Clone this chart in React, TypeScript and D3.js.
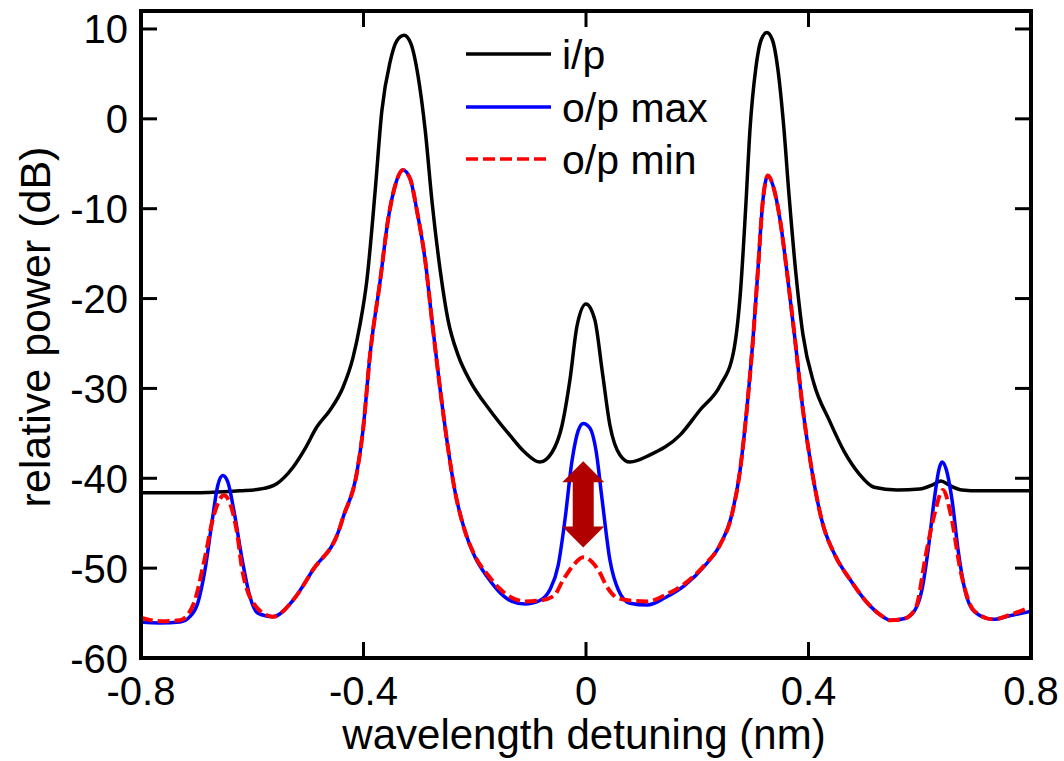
import React from "react";
import * as d3 from "d3";

// wavelength detuning (nm) and relative power (dB)
const inputX = [-0.8, -0.694, -0.622, -0.586, -0.556, -0.527, -0.505, -0.484, -0.46, -0.437, -0.419, -0.406, -0.394, -0.379, -0.367, -0.352, -0.34, -0.327, -0.315, -0.302, -0.289, -0.277, -0.262, -0.248, -0.23, -0.209, -0.173, -0.137, -0.11, -0.083, -0.061, -0.043, -0.029, -0.016, 0, 0.016, 0.029, 0.043, 0.061, 0.079, 0.115, 0.169, 0.205, 0.241, 0.265, 0.278, 0.287, 0.295, 0.305, 0.315, 0.325, 0.335, 0.345, 0.355, 0.365, 0.377, 0.39, 0.41, 0.437, 0.464, 0.491, 0.518, 0.559, 0.6, 0.624, 0.638, 0.654, 0.676, 0.708, 0.75, 0.8];
const inputY = [-41.6, -41.6, -41.4, -41.2, -40.6, -38.8, -36.7, -34.3, -32.4, -29.9, -26.6, -22.8, -18.0, -8.0, 0.9, 6.4, 8.7, 9.3, 8.4, 4.8, -1.3, -9.1, -16.9, -22.4, -26.3, -29.1, -32.4, -35.2, -37.1, -38.2, -37.1, -34.1, -29.1, -23.0, -20.6, -22.4, -28.0, -34.1, -37.4, -38.2, -37.4, -35.2, -32.4, -29.7, -26.0, -19.0, -10.0, -1.0, 5.5, 8.8, 9.6, 8.8, 5.5, -0.5, -8.5, -17.0, -24.0, -29.5, -33.5, -37.0, -39.5, -41.0, -41.3, -41.2, -40.7, -40.3, -40.8, -41.3, -41.4, -41.4, -41.4];

const maxX = [-0.8, -0.766, -0.73, -0.712, -0.698, -0.685, -0.672, -0.662, -0.653, -0.644, -0.633, -0.618, -0.604, -0.59, -0.563, -0.527, -0.491, -0.442, -0.437, -0.412, -0.401, -0.388, -0.37, -0.356, -0.343, -0.329, -0.316, -0.304, -0.289, -0.277, -0.262, -0.25, -0.236, -0.218, -0.2, -0.176, -0.155, -0.133, -0.11, -0.083, -0.065, -0.05, -0.038, -0.025, -0.014, -0.005, 0.007, 0.018, 0.029, 0.043, 0.058, 0.079, 0.11, 0.142, 0.178, 0.214, 0.241, 0.262, 0.277, 0.289, 0.3, 0.309, 0.318, 0.327, 0.336, 0.349, 0.361, 0.376, 0.39, 0.406, 0.424, 0.448, 0.475, 0.502, 0.529, 0.547, 0.573, 0.591, 0.604, 0.615, 0.626, 0.635, 0.64, 0.647, 0.658, 0.669, 0.681, 0.699, 0.732, 0.762, 0.8];
const maxY = [-56.0, -56.1, -56.0, -55.4, -53.9, -50.2, -44.7, -40.8, -39.7, -40.4, -43.6, -49.1, -53.2, -55.0, -55.4, -53.6, -50.2, -45.4, -44.4, -39.4, -34.7, -26.1, -18.0, -11.3, -7.4, -5.7, -6.7, -10.2, -15.8, -22.4, -30.2, -35.8, -41.3, -45.8, -48.7, -51.1, -52.7, -53.7, -54.0, -53.6, -52.4, -49.7, -44.7, -38.0, -34.7, -33.9, -34.4, -36.9, -42.4, -49.1, -52.4, -53.9, -54.1, -53.3, -51.9, -49.7, -47.4, -44.1, -39.1, -32.4, -24.7, -16.9, -9.1, -6.3, -7.4, -11.3, -16.9, -24.7, -32.4, -39.1, -44.7, -48.6, -51.3, -53.6, -55.2, -55.8, -55.6, -54.7, -52.4, -48.0, -42.4, -38.9, -38.2, -38.9, -42.4, -48.0, -52.4, -54.9, -55.7, -55.3, -54.8];

const minX = [-0.8, -0.766, -0.73, -0.705, -0.687, -0.669, -0.651, -0.628, -0.618, -0.593, -0.563, -0.527, -0.491, -0.442, -0.437, -0.412, -0.401, -0.388, -0.37, -0.356, -0.343, -0.329, -0.316, -0.304, -0.289, -0.277, -0.262, -0.25, -0.236, -0.218, -0.2, -0.176, -0.155, -0.133, -0.11, -0.083, -0.058, -0.041, -0.023, -0.005, 0.022, 0.038, 0.056, 0.079, 0.11, 0.142, 0.178, 0.214, 0.241, 0.262, 0.277, 0.289, 0.3, 0.309, 0.318, 0.327, 0.336, 0.349, 0.361, 0.376, 0.39, 0.406, 0.424, 0.448, 0.475, 0.502, 0.529, 0.547, 0.573, 0.593, 0.611, 0.626, 0.642, 0.656, 0.674, 0.697, 0.732, 0.762, 0.8];
const minY = [-55.5, -55.9, -55.8, -53.9, -49.4, -44.1, -41.9, -45.8, -50.2, -54.3, -55.4, -53.6, -50.2, -45.4, -44.4, -39.4, -34.7, -26.1, -18.0, -11.3, -7.4, -5.7, -6.7, -10.2, -15.8, -22.4, -30.2, -35.8, -41.3, -45.8, -48.6, -50.8, -52.3, -53.3, -53.7, -53.6, -53.1, -51.3, -49.7, -48.8, -50.2, -52.1, -53.3, -53.6, -53.7, -53.0, -51.7, -49.6, -47.4, -44.1, -39.1, -32.4, -24.7, -16.9, -9.1, -6.3, -7.4, -11.3, -16.9, -24.7, -32.4, -39.1, -44.7, -48.6, -51.3, -53.6, -55.2, -55.8, -55.6, -54.4, -48.5, -44.1, -41.3, -44.1, -50.5, -54.7, -55.7, -55.2, -54.3];

const seriesNames = ["i/p", "o/p max", "o/p min"];
const xTicks = [-0.8, -0.4, 0, 0.4, 0.8];
const xTickLabels = ["-0.8", "-0.4", "0", "0.4", "0.8"];
const yTicks = [10, 0, -10, -20, -30, -40, -50, -60];
const arrowX = -0.005;
const arrowTop = -38.1;
const arrowBottom = -47.7;

const W = 1064;
const H = 761;
const left = 141, right = 1031, top = 11, bottom = 658;
const FONT = "'Liberation Sans', Arial, Helvetica, sans-serif";

export default function App() {
  const x = d3.scaleLinear().domain([-0.8, 0.8]).range([left, right]);
  const y = d3.scaleLinear().domain([-60, 12]).range([bottom, top]);
  const line = d3
    .line<[number, number]>()
    .x((d) => x(d[0]))
    .y((d) => y(d[1]))
    .curve(d3.curveMonotoneX);
  const zip = (a: number[], b: number[]) => a.map((v, i) => [v, b[i]] as [number, number]);

  const ax = x(arrowX);
  const at = y(arrowTop);
  const ab = y(arrowBottom);
  const hw = 21, sw = 10.5, hl = 21;
  const arrowPts = [
    [ax, at], [ax + hw, at + hl], [ax + sw, at + hl], [ax + sw, ab - hl], [ax + hw, ab - hl],
    [ax, ab], [ax - hw, ab - hl], [ax - sw, ab - hl], [ax - sw, at + hl], [ax - hw, at + hl],
  ].map((p) => p.join(",")).join(" ");

  const legendRows = [
    { name: seriesNames[0], color: "#000", dash: undefined, y: 54 },
    { name: seriesNames[1], color: "#0000ff", dash: undefined, y: 107 },
    { name: seriesNames[2], color: "#ff0000", dash: "12 5", y: 159 },
  ];

  return (
    <svg width={W} height={H} style={{ position: "absolute", left: 0, top: 0, background: "#fff" }} fontFamily={FONT}>
      <rect x={0} y={0} width={W} height={H} fill="#fff" />
      <defs>
        <clipPath id="plot">
          <rect x={left} y={top} width={right - left} height={bottom - top} />
        </clipPath>
      </defs>
      <g clipPath="url(#plot)">
        <path d={line(zip(inputX, inputY)) || ""} fill="none" stroke="#000" strokeWidth={3.5} strokeLinejoin="round" />
        <path d={line(zip(maxX, maxY)) || ""} fill="none" stroke="#0000ff" strokeWidth={3.5} strokeLinejoin="round" />
        <path d={line(zip(minX, minY)) || ""} fill="none" stroke="#ff0000" strokeWidth={4} strokeDasharray="12 5" />
        <polygon points={arrowPts} fill="#b00000" />
      </g>
      {xTicks.map((t, i) => (
        <g key={"xt" + i}>
          <line x1={x(t)} x2={x(t)} y1={bottom} y2={bottom - 16} stroke="#000" strokeWidth={3} />
          <line x1={x(t)} x2={x(t)} y1={top} y2={top + 16} stroke="#000" strokeWidth={3} />
          <text x={x(t)} y={705} textAnchor="middle" fontSize={40}>{xTickLabels[i]}</text>
        </g>
      ))}
      {yTicks.map((t, i) => (
        <g key={"yt" + i}>
          <line x1={left} x2={left + 16} y1={y(t)} y2={y(t)} stroke="#000" strokeWidth={3} />
          <line x1={right} x2={right - 16} y1={y(t)} y2={y(t)} stroke="#000" strokeWidth={3} />
          <text x={128} y={y(t) + 14.5} textAnchor="end" fontSize={40}>{String(t)}</text>
        </g>
      ))}
      <rect x={left} y={top} width={right - left} height={bottom - top} fill="none" stroke="#000" strokeWidth={4} />
      {legendRows.map((r) => (
        <g key={r.name}>
          <line x1={466} x2={551} y1={r.y} y2={r.y} stroke={r.color} strokeWidth={3.5} strokeDasharray={r.dash} />
          <text x={562} y={r.y + 15} fontSize={41}>{r.name}</text>
        </g>
      ))}
      <text x={584} y={749} textAnchor="middle" fontSize={42}>wavelength detuning (nm)</text>
      <text transform={`translate(50,327) rotate(-90)`} textAnchor="middle" fontSize={43}>relative power (dB)</text>
    </svg>
  );
}
